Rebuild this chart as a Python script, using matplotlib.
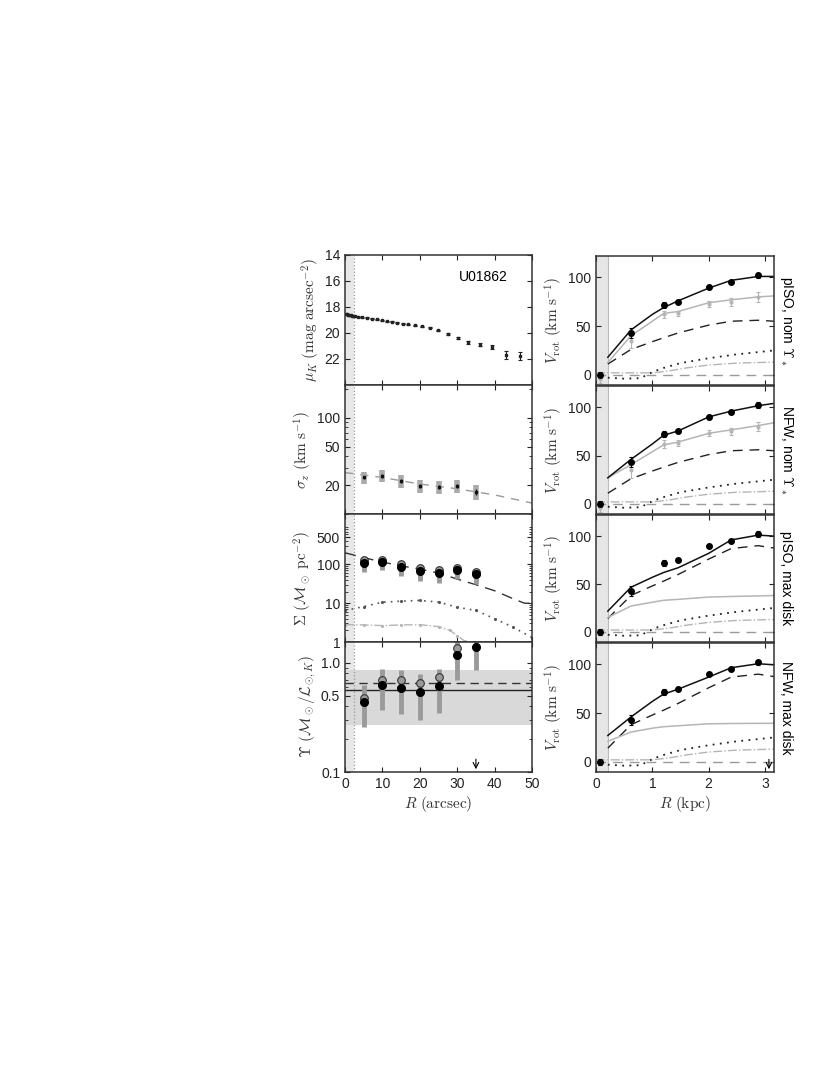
import numpy as np
import matplotlib
matplotlib.use('Agg')
import matplotlib.pyplot as plt
from matplotlib.ticker import FixedLocator, NullFormatter, LogLocator

plt.rcParams['font.family'] = ['Liberation Sans', 'DejaVu Sans']
plt.rcParams['mathtext.fontset'] = 'cm'
plt.rcParams['xtick.direction'] = 'in'
plt.rcParams['ytick.direction'] = 'in'

# ---- left column data (R in arcsec) ----
R_mu = [0.3, 0.6, 0.9, 1.2, 1.5, 1.8, 2.1, 2.7, 3.6, 4.5, 5.8, 7.1, 8.5, 9.8, 11.1,
        12.5, 13.8, 15.4, 16.9, 18.7, 20.5, 22.7, 24.9, 27.5, 30.1, 33.0, 36.1, 39.2, 43.0, 46.8]
mu = [18.55, 18.57, 18.6, 18.62, 18.64, 18.66, 18.68, 18.7, 18.74, 18.78, 18.84, 18.9, 18.96,
      19.02, 19.08, 19.14, 19.2, 19.27, 19.34, 19.42, 19.5, 19.6, 19.8, 20.1, 20.4, 20.7,
      20.9, 21.1, 21.7, 21.8]
mu_err = [0.04] * 22 + [0.06, 0.08, 0.1, 0.12, 0.12, 0.15, 0.3, 0.3]

R_bin = [5, 10, 15, 20, 25, 30, 35]
sigma = [24.1, 24.9, 21.9, 19.7, 19.0, 19.7, 17.0]
sigma_err = [1.0, 1.0, 1.0, 1.0, 1.0, 1.0, 1.2]
sigma_box = [3.5, 3.5, 3.3, 3.0, 3.0, 3.0, 3.0]
R_sigfit = [0, 10, 20, 30, 40, 50]
sigfit = [27, 24, 20.5, 18.3, 15.8, 13.0]

Sig_fill = [110, 117, 87, 68, 61, 72, 56]
Sig_open = [134, 134, 104, 82, 72, 82, 65]
Sig_lo = [65, 70, 50, 38, 34, 42, 32]
R_sigmod = [0, 5, 10, 15, 20, 25, 30, 35, 40, 45, 48, 50]
Sig_dash = [200, 150, 115, 92, 76, 60, 42, 30, 21, 13, 10, 10]
R_star = [0, 5, 10, 15, 20, 25, 30, 35, 40, 45, 50]
Sig_star = [6.5, 8.2, 10.6, 11.3, 11.8, 10.7, 7.9, 6.5, 4.0, 2.4, 1.3]
R_gas = [0, 5, 10, 15, 20, 25, 28, 30, 32, 33]
Sig_gas = [2.8, 2.76, 2.65, 2.75, 2.8, 2.5, 2.0, 1.47, 1.05, 0.9]

Ups_fill = [0.44, 0.62, 0.59, 0.535, 0.61, 1.18, 1.40]
Ups_open = [0.48, 0.69, 0.69, 0.65, 0.74, 1.36, None]
Ups_lo = [0.26, 0.37, 0.34, 0.30, 0.35, 0.69, 0.85]
Ups_hi = [0.62, 0.87, 0.85, 0.79, 0.87, 1.6, 1.6]
Ups_band = [0.27, 0.86]
Ups_mean = 0.647
Ups_med = 0.562

# ---- right column data (R in kpc) ----
R_obs = [0.07, 0.62, 1.20, 1.46, 2.01, 2.40, 2.88]
V_obs = [0, 43, 72, 75, 90, 95, 102]
V_obs_err = [3, 5, 3, 2, 2, 2, 3]
V_corr = [-4, 35, 62, 63, 73, 75, 80]
V_corr_err = [4, 8, 4, 3, 3, 4, 5]

R_mod = [0.21, 0.62, 1.0, 1.2, 1.46, 2.0, 2.4, 2.88, 3.16]
V_tot_pn = [18, 46, 62, 69, 76, 89, 97, 101, 101]
V_halo_pn = [12.6, 40, 55, 63, 65, 74, 77, 80, 81]
V_tot_nn = [27, 46, 62, 71, 75.5, 90, 96, 101.6, 104]
V_halo_nn = [27, 40.5, 54, 61, 64, 73, 76.6, 81, 84]
V_disk_nom = [11, 26, 34, 38, 43, 51, 55, 56, 55]
V_tot_pm = [21.7, 46.6, 57, 62, 67, 82, 96, 101, 100]
V_halo_pm = [15, 27, 31, 33, 34, 36.4, 37, 37.6, 38]
V_tot_nm = [27, 46, 62, 69.5, 74.6, 87, 96.6, 100.7, 99.6]
V_halo_nm = [21, 30.5, 34.5, 36, 37, 39, 39.3, 39.5, 39.5]
V_disk_max = [14, 38, 48, 53, 60, 76, 87, 90, 87.5]
R_gasv = [0.21, 0.5, 0.8, 0.9, 1.05, 1.2, 1.5, 2.0, 2.5, 3.16]
V_gas = [-3, -4, -3.5, 0, 4, 7, 12, 17, 21, 25]
R_bulv = [0.0, 0.21, 1.0, 1.3, 1.6, 2.0, 2.5, 3.16]
V_other = [2, 2, 2, 4, 7, 10, 12, 13]

side_labels = [r'pISO, nom $\Upsilon_*$', r'NFW, nom $\Upsilon_*$', 'pISO, max disk', 'NFW, max disk']

fig = plt.figure(figsize=(8.3, 10.75), dpi=100)
W, H = 830.0, 1075.0
lab_col = '#333333'
grey = '#9a9a9a'
lgrey = '#b5b5b5'


def add(x0, x1, y0, y1):
    return fig.add_axes([x0 / W, 1 - y1 / H, (x1 - x0) / W, (y1 - y0) / H])


def style(ax):
    for s in ax.spines.values():
        s.set_color('#333333')
        s.set_linewidth(1.1)
    ax.tick_params(which='both', top=True, right=True, labelsize=10, colors='#222222')
    ax.tick_params(which='major', length=3.5)
    ax.tick_params(which='minor', length=2)


tops = [255, 385, 514, 642, 772]
left_axes = [add(345, 532, tops[i], tops[i + 1]) for i in range(4)]
right_axes = [add(596, 774, tops[i] + 1, tops[i + 1]) for i in range(4)]

for ax in left_axes:
    ax.set_xlim(0, 50)
    ax.axvspan(0, 2.4, color='#e8e8e8', lw=0, zorder=0)
    ax.axvline(2.4, color='#999999', ls=':', lw=0.9, zorder=1)
    ax.xaxis.set_major_locator(FixedLocator([0, 10, 20, 30, 40, 50]))
    style(ax)
    if ax is not left_axes[-1]:
        ax.set_xticklabels([])

# panel 1: surface brightness
ax = left_axes[0]
ax.errorbar(R_mu, mu, yerr=mu_err, fmt='s', ms=1.8, color='#222222', ecolor='#222222',
            elinewidth=0.8, capsize=1.5, capthick=0.8)
ax.set_ylim(24, 14)
ax.set_yticks([14, 16, 18, 20, 22])
ax.text(0.87, 0.83, 'U01862', transform=ax.transAxes, ha='right', va='center', fontsize=10)
ax.set_ylabel(r'$\mu_K\ (\mathrm{mag\ arcsec^{-2}})$', fontsize=11, color=lab_col, labelpad=2)

# panel 2: sigma_z
ax = left_axes[1]
ax.set_yscale('log')
ax.plot(R_sigfit, sigfit, ls=(0, (6, 5)), color=grey, lw=1.0)
ax.errorbar(R_bin, sigma, yerr=sigma_box, fmt='none', ecolor='#aaaaaa', elinewidth=4, capsize=0)
ax.errorbar(R_bin, sigma, yerr=sigma_err, fmt='s', ms=2, color='#111111', ecolor='#111111',
            elinewidth=1, capsize=0)
ax.set_ylim(10, 220)
ax.yaxis.set_major_locator(FixedLocator([20, 50, 100]))
ax.yaxis.set_major_formatter(plt.FixedFormatter(['20', '50', '100']))
ax.yaxis.set_minor_locator(LogLocator(subs=np.arange(2, 10)))
ax.yaxis.set_minor_formatter(NullFormatter())
ax.set_ylabel(r'$\sigma_z\ (\mathrm{km\ s^{-1}})$', fontsize=11, color=lab_col, labelpad=2)

# panel 3: Sigma
ax = left_axes[2]
ax.set_yscale('log')
ax.plot(R_sigmod, Sig_dash, ls=(0, (8, 5)), color='#333333', lw=1.0)
ax.plot(R_star, Sig_star, ls=(0, (1, 3)), color='#555555', lw=1.2, marker='.', ms=2.5)
ax.plot(R_gas, Sig_gas, ls='-.', color=lgrey, lw=1.0, marker='.', ms=2.5)
lo = [s - l for s, l in zip(Sig_fill, Sig_lo)]
ax.errorbar(R_bin, Sig_fill, yerr=[lo, [3] * 7], fmt='none', ecolor=grey, elinewidth=3.5, capsize=0)
ax.plot(R_bin, Sig_open, 'o', ms=5.5, mfc='#9a9a9a', mec='#333333', mew=0.8)
ax.plot(R_bin, Sig_fill, 'o', ms=5.5, color='black')
ax.set_ylim(1, 2000)
ax.yaxis.set_major_locator(FixedLocator([1, 10, 100, 500]))
ax.yaxis.set_major_formatter(plt.FixedFormatter(['1', '10', '100', '500']))
ax.yaxis.set_minor_locator(LogLocator(subs=np.arange(2, 10)))
ax.yaxis.set_minor_formatter(NullFormatter())
ax.set_ylabel(r'$\Sigma\ (\mathcal{M}_\odot\ \mathrm{pc^{-2}})$', fontsize=11, color=lab_col, labelpad=2)

# panel 4: Upsilon
ax = left_axes[3]
ax.set_yscale('log')
ax.axhspan(Ups_band[0], Ups_band[1], color='#d9d9d9', lw=0, zorder=0)
ax.axhline(Ups_mean, color='#333333', ls=(0, (6, 4)), lw=1.0)
ax.axhline(Ups_med, color='#222222', lw=1.0)
lo = [v - l for v, l in zip(Ups_fill, Ups_lo)]
hi = [h - v for v, h in zip(Ups_fill, Ups_hi)]
ax.errorbar(R_bin, Ups_fill, yerr=[lo, hi], fmt='none', ecolor=grey, elinewidth=3.5, capsize=0)
ax.errorbar(R_bin, Ups_fill, yerr=[[0.05 * v for v in Ups_fill], [0.05 * v for v in Ups_fill]],
            fmt='none', ecolor='black', elinewidth=1, capsize=0)
Ro = [r for r, v in zip(R_bin, Ups_open) if v is not None]
Vo = [v for v in Ups_open if v is not None]
ax.plot(Ro, Vo, 'o', ms=5.5, mfc='#9a9a9a', mec='#333333', mew=0.8)
ax.plot(R_bin, Ups_fill, 'o', ms=5.5, color='black')
ax.set_ylim(0.1, 1.55)
ax.yaxis.set_major_locator(FixedLocator([0.1, 0.5, 1.0]))
ax.yaxis.set_major_formatter(plt.FixedFormatter(['0.1', '0.5', '1.0']))
ax.yaxis.set_minor_locator(LogLocator(subs=np.arange(2, 10)))
ax.yaxis.set_minor_formatter(NullFormatter())
ax.annotate('', xy=(35, 0.0), xycoords=('data', 'axes fraction'), xytext=(35, 0.12),
            textcoords=('data', 'axes fraction'),
            arrowprops=dict(arrowstyle='->', color='black', lw=0.8))
ax.set_ylabel(r'$\Upsilon\ (\mathcal{M}_\odot/\mathcal{L}_{\odot,K})$', fontsize=11, color=lab_col, labelpad=2)
ax.set_xlabel(r'$R\ (\mathrm{arcsec})$', fontsize=11, color=lab_col, labelpad=2)

# right column: rotation curves
tot = [V_tot_pn, V_tot_nn, V_tot_pm, V_tot_nm]
halo = [V_halo_pn, V_halo_nn, V_halo_pm, V_halo_nm]
disk = [V_disk_nom, V_disk_nom, V_disk_max, V_disk_max]
for i, ax in enumerate(right_axes):
    ax.set_xlim(0, 3.16)
    ax.set_ylim(-10.5, 122)
    ax.axvspan(0, 0.21, color='#e6e6e6', lw=0, zorder=0)
    ax.axvline(0.21, color='#bbbbbb', lw=0.8, zorder=1)
    ax.axhline(0, color=grey, ls=(0, (7, 5)), lw=1.0)
    ax.plot(R_bulv, V_other, color=lgrey, ls='-.', lw=1.0)
    ax.plot(R_gasv, V_gas, color='#222222', ls=(0, (1, 3)), lw=1.3)
    ax.plot(R_mod, disk[i], color='#222222', ls=(0, (7, 5)), lw=1.0)
    ax.plot(R_mod, halo[i], color=lgrey, lw=1.1)
    ax.plot(R_mod, tot[i], color='#111111', lw=1.1)
    if i < 2:
        ax.errorbar(R_obs, V_corr, yerr=V_corr_err, fmt='o', ms=2, color=lgrey, ecolor=lgrey,
                    elinewidth=0.8, capsize=1.5, capthick=0.8)
    ax.errorbar(R_obs, V_obs, yerr=V_obs_err, fmt='o', ms=4, color='black', ecolor='black',
                elinewidth=0.8, capsize=1.5, capthick=0.8)
    ax.xaxis.set_major_locator(FixedLocator([0, 1, 2, 3]))
    ax.yaxis.set_major_locator(FixedLocator([0, 50, 100]))
    style(ax)
    ax.set_ylabel(r'$V_\mathrm{rot}\ (\mathrm{km\ s^{-1}})$', fontsize=11, color=lab_col, labelpad=2)
    ax.text(1.07, 0.5, side_labels[i], transform=ax.transAxes, rotation=270,
            ha='center', va='center', fontsize=10)
    if i < 3:
        ax.set_xticklabels([])

ax = right_axes[-1]
ax.annotate('', xy=(3.07, 0.0), xycoords=('data', 'axes fraction'), xytext=(3.07, 0.12),
            textcoords=('data', 'axes fraction'),
            arrowprops=dict(arrowstyle='->', color='black', lw=0.8))
ax.set_xlabel(r'$R\ (\mathrm{kpc})$', fontsize=11, color=lab_col, labelpad=2)

fig.savefig('out.png', dpi=100)
